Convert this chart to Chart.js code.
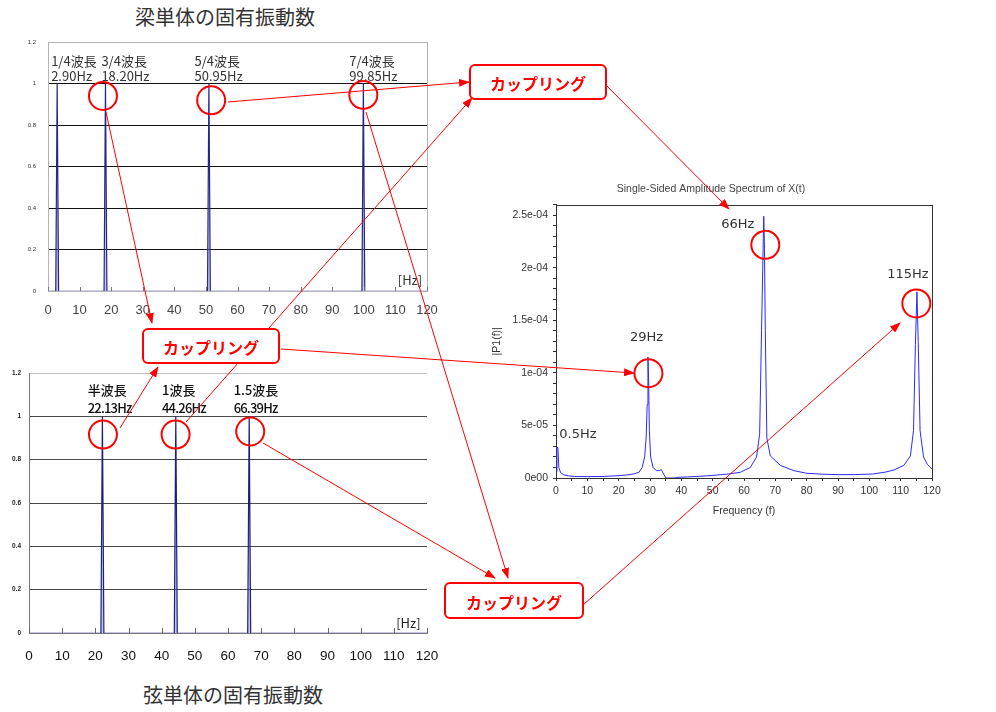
<!DOCTYPE html>
<html lang="ja">
<head>
<meta charset="utf-8">
<title>梁・弦の固有振動数とカップリング</title>
<script src="https://cdn.jsdelivr.net/npm/chart.js@4.4.1/dist/chart.umd.min.js"></script>
<style>
  html, body { margin: 0; padding: 0; background: #fff; }
  #stage { position: relative; width: 996px; height: 712px; overflow: hidden; font-family: "Noto Sans CJK JP", sans-serif; }
  canvas { position: absolute; }
  #beamChart { left: 0; top: 0; }
  #stringChart { left: 0; top: 360px; }
  #specChart { left: 490px; top: 170px; }
  .caption { position: absolute; font-size: 20px; line-height: 24px; color: #333; white-space: nowrap; }
  #overlay { position: absolute; left: 0; top: 0; }
</style>
</head>
<body>
<div id="stage">
  <div class="caption" style="left:135px; top:5px;">梁単体の固有振動数</div>
  <canvas id="beamChart" width="440" height="330"></canvas>
  <canvas id="stringChart" width="440" height="310"></canvas>
  <canvas id="specChart" width="460" height="350"></canvas>
  <div class="caption" style="left:143px; top:683px;">弦単体の固有振動数</div>
  <svg id="overlay" width="996" height="712"></svg>
</div>
<script>
// beam (梁) natural frequencies
const beamPeaks = [2.90, 18.20, 50.95, 99.85];
const beamAmps = [1, 1, 1, 1];
const beamModes = ['1/4波長', '3/4波長', '5/4波長', '7/4波長'];
const beamHz = ['2.90Hz', '18.20Hz', '50.95Hz', '99.85Hz'];

// string (弦) natural frequencies
const stringPeaks = [22.13, 44.26, 66.39];
const stringAmps = [1, 1, 1];
const stringModes = ['半波長', '1波長', '1.5波長'];
const stringHz = ['22.13Hz', '44.26Hz', '66.39Hz'];

const ratioTicks = ['0', '0.2', '0.4', '0.6', '0.8', '1', '1.2'];

// coupled system spectrum
const specFreq = [
  0, 0.3, 0.6, 0.9, 1.5, 2.5, 4, 6,
  10, 15, 20, 23, 25, 26.5, 27.5, 28.3,
  28.8, 29.1, 29.35, 29.55, 29.8, 30.2, 31, 32,
  33, 33.6, 34.3, 35.1, 38, 38.6, 42, 48,
  52, 55, 58.8, 62, 64, 65, 65.6, 66.05,
  66.3, 66.5, 66.8, 67.3, 68.4, 71.6, 75.9, 80,
  85, 90, 95, 101, 105, 107.8, 111, 113.1,
  114.1, 114.7, 115.2, 115.6, 116.2, 117.3, 118.5, 120
];
const specAmp = [
  0.6e-5, 2.9e-5, 2.9e-5, 1.0e-5, 5e-6, 3e-6, 2e-6, 1.4e-6,
  1.3e-6, 1.5e-6, 2.2e-6, 3e-6, 4e-6, 5.5e-6, 1e-5, 2e-5,
  4e-5, 7e-5, 1.15e-4, 9.5e-5, 4.5e-5, 2e-5, 1e-5, 7e-6,
  7e-6, 8e-6, 4e-6, 0, 0, 6e-7, 1e-6, 2e-6,
  3e-6, 3.8e-6, 5.4e-6, 1e-5, 2e-5, 4.2e-5, 1.4e-4, 2.1e-4,
  2.49e-4, 2.25e-4, 1.4e-4, 3.8e-5, 2.1e-5, 1.2e-5, 7e-6, 4.5e-6,
  3.6e-6, 3.2e-6, 3.2e-6, 3.8e-6, 5.5e-6, 7.6e-6, 1.2e-5, 2.1e-5,
  4.5e-5, 1.27e-4, 1.77e-4, 1.3e-4, 4.5e-5, 2e-5, 1.3e-5, 8.5e-6
];
const specTickLabels = ['0e00', '5e-05', '1e-04', '1.5e-04', '2e-04', '2.5e-04'];
const specPeakNames = ['0.5Hz', '29Hz', '66Hz', '115Hz'];

// where the text notes sit, in axis units
const beamNoteX = [1.0, 16.9, 46.4, 95.4];
const stringNoteX = [17.7, 40.1, 61.7];
const specNoteX = [7.0, 28.9, 58.0, 112.3];
const specNoteY = [4.15e-5, 1.332e-4, 2.407e-4, 1.933e-4];

// red rings, in axis units
const beamRings = [[17.4, 0.94], [51.66, 0.919], [99.84, 0.945]];
const stringRings = [[22.3, 0.916], [44.2, 0.916], [66.7, 0.93]];
const specRings = [[66.8, 2.217e-4], [29.5, 0.996e-4], [115.0, 1.66e-4]];

// thin spike for every natural frequency
function spikes(peaks, amps) {
  const pts = [{x: 0, y: 0}];
  peaks.forEach((f, i) => {
    pts.push({x: f - 0.45, y: 0}, {x: f, y: amps[i]}, {x: f + 0.45, y: 0});
  });
  pts.push({x: 120, y: 0});
  return pts;
}

// keep the plot box where the layout padding puts it
function fixX(height) {
  return s => { s.height = height; s.paddingLeft = 0; s.paddingRight = 0; };
}

const notesPlugin = {
  id: 'notes',
  afterDatasetsDraw(chart, args, opts) {
    const {ctx, scales: {x, y}} = chart;
    (opts.items || []).forEach(n => {
      ctx.save();
      ctx.font = n.font;
      ctx.fillStyle = n.color;
      ctx.textAlign = n.align || 'left';
      ctx.textBaseline = 'middle';
      if (n.spacing) ctx.letterSpacing = n.spacing;
      ctx.fillText(n.text, x.getPixelForValue(n.x), y.getPixelForValue(n.y));
      ctx.restore();
    });
  }
};

const framePlugin = {
  id: 'frame',
  beforeDatasetsDraw(chart, args, opts) {
    if (!opts.color) return;
    const {ctx, chartArea: a} = chart;
    ctx.save();
    ctx.strokeStyle = opts.color;
    ctx.lineWidth = 1;
    ctx.strokeRect(Math.round(a.left) + 0.5, Math.round(a.top) + 0.5,
      Math.round(a.right - a.left), Math.round(a.bottom - a.top));
    ctx.restore();
  }
};

const innerTicksPlugin = {
  id: 'innerTicks',
  afterDatasetsDraw(chart, args, opts) {
    if (!opts.length) return;
    const {ctx, chartArea: a, scales: {x}} = chart;
    ctx.save();
    ctx.strokeStyle = opts.color;
    ctx.lineWidth = 1;
    ctx.beginPath();
    x.ticks.forEach(t => {
      const px = Math.round(x.getPixelForValue(t.value)) + 0.5;
      ctx.moveTo(px, a.bottom);
      ctx.lineTo(px, a.bottom - opts.length);
    });
    ctx.stroke();
    ctx.restore();
  }
};

const baseOpts = {
  responsive: false,
  animation: false,
  events: []
};

// ---------- 梁単体 ----------
const beamNotes = [];
beamModes.forEach((m, i) => {
  beamNotes.push({text: m, x: beamNoteX[i], y: 1.109, font: '13px "Noto Sans CJK JP"', color: '#333'});
  beamNotes.push({text: beamHz[i], x: beamNoteX[i], y: 1.034, font: '13px "Noto Sans CJK JP"', color: '#333'});
});
beamNotes.push({text: '[Hz]', x: 114.6, y: 0.052, font: '13px "Noto Sans CJK JP"', color: '#333', align: 'center'});

const beamChart = new Chart(document.getElementById('beamChart'), {
  type: 'line',
  data: {
    datasets: [{
      data: spikes(beamPeaks, beamAmps),
      borderColor: '#27278a',
      borderWidth: 1.2,
      pointRadius: 0,
      fill: 'origin',
      backgroundColor: 'rgba(130,130,215,0.45)',
      segment: {
        borderColor: c => (c.p0.parsed.y === 0 && c.p1.parsed.y === 0) ? '#a4a4dc' : undefined
      }
    }]
  },
  options: {
    ...baseOpts,
    layout: {padding: {top: 42, right: 13, left: 0, bottom: 0}},
    plugins: {
      legend: {display: false},
      tooltip: {enabled: false},
      frame: {color: '#b4b4b4'},
      innerTicks: {length: 4, color: '#777'},
      notes: {items: beamNotes}
    },
    scales: {
      x: {
        type: 'linear', min: 0, max: 120,
        afterFit: fixX(39),
        ticks: {stepSize: 10, padding: 12, color: '#444', font: {family: 'Liberation Sans', size: 13}},
        grid: {display: false, drawTicks: false},
        border: {color: '#b4b4b4'}
      },
      y: {
        min: 0, max: 1.2,
        afterFit: s => { s.width = 48; },
        ticks: {
          stepSize: 0.2, padding: 12, color: '#333',
          font: {family: 'Liberation Sans', size: 6},
          callback: v => ratioTicks[Math.round(v / 0.2)]
        },
        grid: {
          drawTicks: false,
          color: c => (c.tick.value > 0.01 && c.tick.value < 1.19) ? '#111' : '#b4b4b4'
        },
        border: {color: '#b4b4b4'}
      }
    }
  },
  plugins: [framePlugin, innerTicksPlugin, notesPlugin]
});

// ---------- 弦単体 ----------
const stringNotes = [];
stringModes.forEach((m, i) => {
  stringNotes.push({text: m, x: stringNoteX[i], y: 1.119, font: '500 13px "Noto Sans CJK JP"', color: '#111'});
  stringNotes.push({text: stringHz[i], x: stringNoteX[i], y: 1.036, font: '500 13px "Noto Sans CJK JP"', color: '#111', spacing: '-0.8px'});
});
stringNotes.push({text: '[Hz]', x: 114.4, y: 0.046, font: '13px "Noto Sans CJK JP"', color: '#222', align: 'center'});

const stringChart = new Chart(document.getElementById('stringChart'), {
  type: 'line',
  data: {
    datasets: [{
      data: spikes(stringPeaks, stringAmps),
      borderColor: '#1e1e80',
      borderWidth: 1.2,
      pointRadius: 0,
      fill: 'origin',
      backgroundColor: 'rgba(130,130,215,0.45)',
      segment: {
        borderColor: c => (c.p0.parsed.y === 0 && c.p1.parsed.y === 0) ? '#8c8cc8' : undefined
      }
    }]
  },
  options: {
    ...baseOpts,
    layout: {padding: {top: 13, right: 13, left: 0, bottom: 0}},
    plugins: {
      legend: {display: false},
      tooltip: {enabled: false},
      innerTicks: {length: 5, color: '#666'},
      notes: {items: stringNotes}
    },
    scales: {
      x: {
        type: 'linear', min: 0, max: 120,
        afterFit: fixX(37),
        ticks: {stepSize: 10, padding: 15, color: '#111', font: {family: 'Liberation Sans', size: 13.5}},
        grid: {display: false, drawTicks: false},
        border: {color: '#777'}
      },
      y: {
        min: 0, max: 1.2,
        afterFit: s => { s.width = 29; },
        ticks: {
          stepSize: 0.2, padding: 8, color: '#222',
          font: {family: 'Liberation Sans', size: 6.5, weight: 'bold'},
          callback: v => ratioTicks[Math.round(v / 0.2)]
        },
        grid: {
          drawTicks: false,
          color: c => (c.tick.value > 0.01 && c.tick.value < 1.19) ? '#4a4a4a' : '#bdbdbd'
        },
        border: {color: '#777'}
      }
    }
  },
  plugins: [innerTicksPlugin, notesPlugin]
});

// ---------- 連成系のスペクトル ----------
const specNotes = specPeakNames.map((t, i) => ({
  text: t, x: specNoteX[i], y: specNoteY[i], font: '13px "DejaVu Sans"', color: '#333', align: 'center'
}));

const specChart = new Chart(document.getElementById('specChart'), {
  type: 'line',
  data: {
    datasets: [{
      data: specFreq.map((f, i) => ({x: f, y: specAmp[i]})),
      borderColor: '#2a2aff',
      borderWidth: 1,
      pointRadius: 0,
      fill: false
    }]
  },
  options: {
    ...baseOpts,
    layout: {padding: {top: 0, right: 18, left: 0, bottom: 0}},
    plugins: {
      legend: {display: false},
      tooltip: {enabled: false},
      title: {
        display: true,
        text: 'Single-Sided Amplitude Spectrum of X(t)',
        color: '#444',
        font: {family: 'Liberation Sans', size: 10.5, weight: 'normal'},
        padding: {top: 13, bottom: 9}
      },
      frame: {color: '#333'},
      notes: {items: specNotes}
    },
    scales: {
      x: {
        type: 'linear', min: 0, max: 120,
        afterFit: fixX(42),
        title: {display: true, text: 'Frequency (f)', color: '#333', font: {family: 'Liberation Sans', size: 10.5}, padding: {top: 0, bottom: 3}},
        ticks: {
          stepSize: 5, autoSkip: false, maxRotation: 0, padding: 4, color: '#333',
          font: {family: 'Liberation Sans', size: 10.5},
          callback: v => (Math.round(v) % 10 === 0 ? String(Math.round(v)) : '')
        },
        grid: {drawOnChartArea: false, tickLength: 3, tickColor: '#333'},
        border: {color: '#333'}
      },
      y: {
        min: 0, max: 2.6e-4,
        afterFit: s => { s.width = 66; },
        title: {display: true, text: '|P1(f)|', color: '#333', font: {family: 'Liberation Sans', size: 10.5}, padding: {top: 1, bottom: 0}},
        ticks: {
          stepSize: 1e-5, autoSkip: false, padding: 5, color: '#333',
          font: {family: 'Liberation Sans', size: 10.5},
          callback: v => {
            const k = Math.round(v / 1e-5);
            return k % 5 === 0 ? (specTickLabels[k / 5] || '') : '';
          }
        },
        grid: {drawOnChartArea: false, tickLength: 3, tickColor: '#333'},
        border: {color: '#333'}
      }
    }
  },
  plugins: [framePlugin, notesPlugin]
});

// ---------- red annotation layer ----------
const boxes = [
  {x: 470, y: 65, w: 136, h: 34},
  {x: 143, y: 329, w: 136, h: 34},
  {x: 445, y: 583, w: 138, h: 35}
];
const arrows = [
  [228, 102, 469, 82],
  [606, 85, 729, 209],
  [106, 112, 152, 323],
  [120, 428, 158, 367],
  [186, 422, 472, 98],
  [281, 349, 634, 373],
  [263, 443, 495, 578],
  [366, 112, 508, 578],
  [583, 605, 900, 323]
];

const NS = 'http://www.w3.org/2000/svg';
const svg = document.getElementById('overlay');
function el(name, attrs, parent) {
  const e = document.createElementNS(NS, name);
  Object.entries(attrs).forEach(([k, v]) => e.setAttribute(k, v));
  (parent || svg).appendChild(e);
  return e;
}

const defs = el('defs', {});
const marker = el('marker', {id: 'head', markerWidth: 11, markerHeight: 8, refX: 10, refY: 4,
  orient: 'auto', markerUnits: 'userSpaceOnUse'}, defs);
el('path', {d: 'M0,0 L11,4 L0,8 z', fill: '#ff0000'}, marker);

arrows.forEach(([x1, y1, x2, y2]) => {
  el('line', {x1, y1, x2, y2, stroke: '#ff0000', 'stroke-width': 1, 'marker-end': 'url(#head)'});
});

boxes.forEach(b => {
  el('rect', {x: b.x, y: b.y, width: b.w, height: b.h, rx: 5, ry: 5,
    fill: '#fff', stroke: '#ff0000', 'stroke-width': 2});
  const t = el('text', {x: b.x + b.w / 2, y: b.y + b.h / 2 + 1, 'text-anchor': 'middle',
    'dominant-baseline': 'central', fill: '#ff0000', 'font-size': 16, 'font-weight': 'bold',
    'font-family': '"Noto Sans CJK JP", sans-serif'});
  t.textContent = 'カップリング';
});

function drawRings(chart, rings) {
  const ox = chart.canvas.offsetLeft, oy = chart.canvas.offsetTop;
  rings.forEach(([fx, fy]) => {
    el('circle', {
      cx: ox + chart.scales.x.getPixelForValue(fx),
      cy: oy + chart.scales.y.getPixelForValue(fy),
      r: 14, fill: 'none', stroke: '#ff0000', 'stroke-width': 2
    });
  });
}
drawRings(beamChart, beamRings);
drawRings(stringChart, stringRings);
drawRings(specChart, specRings);
</script>
</body>
</html>
